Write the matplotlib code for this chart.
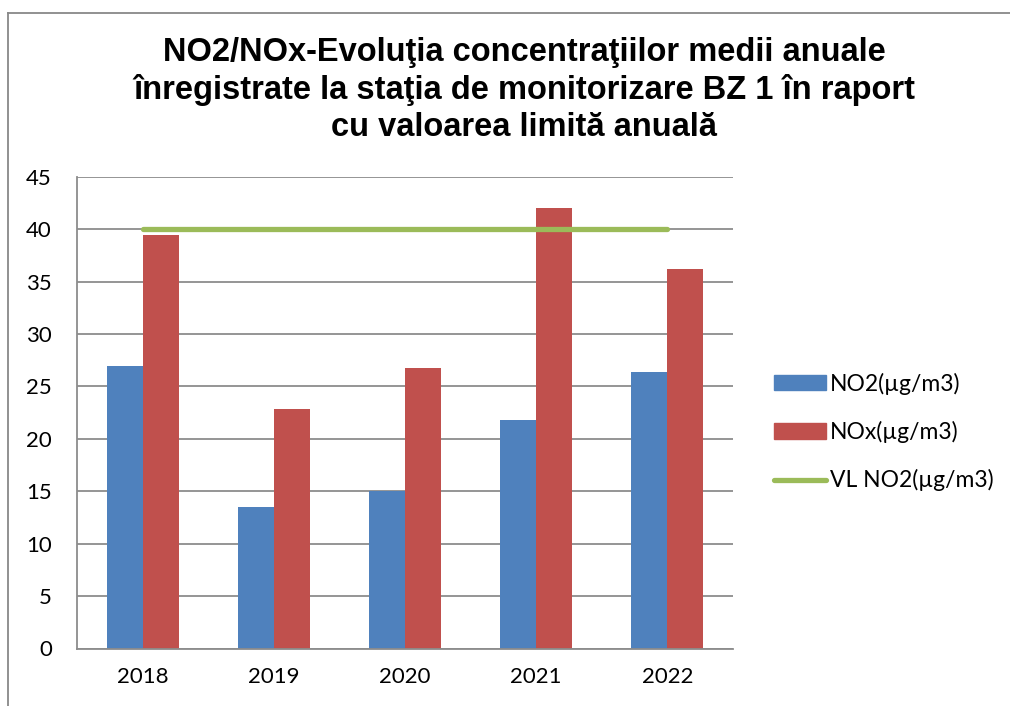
import matplotlib.pyplot as plt
import numpy as np
from matplotlib.lines import Line2D
from matplotlib.patches import Patch

ani = ['2018', '2019', '2020', '2021', '2022']
no2 = [26.9, 13.5, 15.0, 21.8, 26.4]
nox = [39.4, 22.8, 26.8, 42.0, 36.2]
vl_no2 = [40, 40, 40, 40, 40]

titlu = ("NO2/NOx-Evoluţia concentraţiilor medii anuale\n"
         "înregistrate la staţia de monitorizare BZ 1 în raport\n"
         "cu valoarea limită anuală")

albastru = '#4F81BD'
rosu = '#C0504D'
verde = '#9BBB59'
gri = '#8C8C8C'

W, H = 1010, 706
fig = plt.figure(figsize=(W / 100, H / 100), dpi=100)
ax = fig.add_axes([77 / W, 1 - 648.5 / H, (733 - 77) / W, (648.5 - 176.7) / H])

x = np.arange(len(ani))
lat = 0.275
ax.bar(x - lat / 2, no2, lat, color=albastru, label='NO2(µg/m3)', zorder=2)
ax.bar(x + lat / 2, nox, lat, color=rosu, label='NOx(µg/m3)', zorder=2)
ax.plot(x, vl_no2, color=verde, lw=3.8, solid_capstyle='round', label='VL NO2(µg/m3)', zorder=3)

ax.set_xlim(-0.5, len(ani) - 0.5)
ax.set_ylim(0, 45)
ax.set_yticks(range(0, 46, 5))
ax.set_xticks(x)
ax.set_xticklabels(ani)
ax.grid(axis='y', color=gri, lw=1.3, zorder=0)
ax.set_axisbelow(True)
for s in ['top', 'right']:
    ax.spines[s].set_visible(False)
for s in ['left', 'bottom']:
    ax.spines[s].set_color(gri)
    ax.spines[s].set_linewidth(1.3)
ax.tick_params(length=0, labelsize=16)
ax.tick_params(axis='y', pad=18)
ax.tick_params(axis='x', pad=13)
for lbl in ax.get_xticklabels() + ax.get_yticklabels():
    lbl.set_family('Lato')

handles = [Patch(color=albastru), Patch(color=rosu),
           Line2D([0], [0], color=verde, lw=3.8, solid_capstyle='round')]
labels = ['NO2(µg/m3)', 'NOx(µg/m3)', 'VL NO2(µg/m3)']
fig.legend(handles, labels, loc='center left', bbox_to_anchor=(753 / W, 1 - 432 / H),
           frameon=False, prop={'family': 'Lato', 'size': 16.5},
           handlelength=2.3, handleheight=0.65, handletextpad=0.15, labelspacing=1.15)

fig.text(524 / W, 1 - 90 / H, titlu, ha='center', va='center', fontsize=23.5,
         fontweight='bold', family='Liberation Sans', linespacing=1.24)

# chenarul graficului
fig.add_artist(Line2D([8 / W, 8 / W], [0, 1 - 13 / H], color='#888888', lw=1.3))
fig.add_artist(Line2D([8 / W, 1], [1 - 13 / H, 1 - 13 / H], color='#888888', lw=1.3))

fig.savefig('out.png', dpi=100)
